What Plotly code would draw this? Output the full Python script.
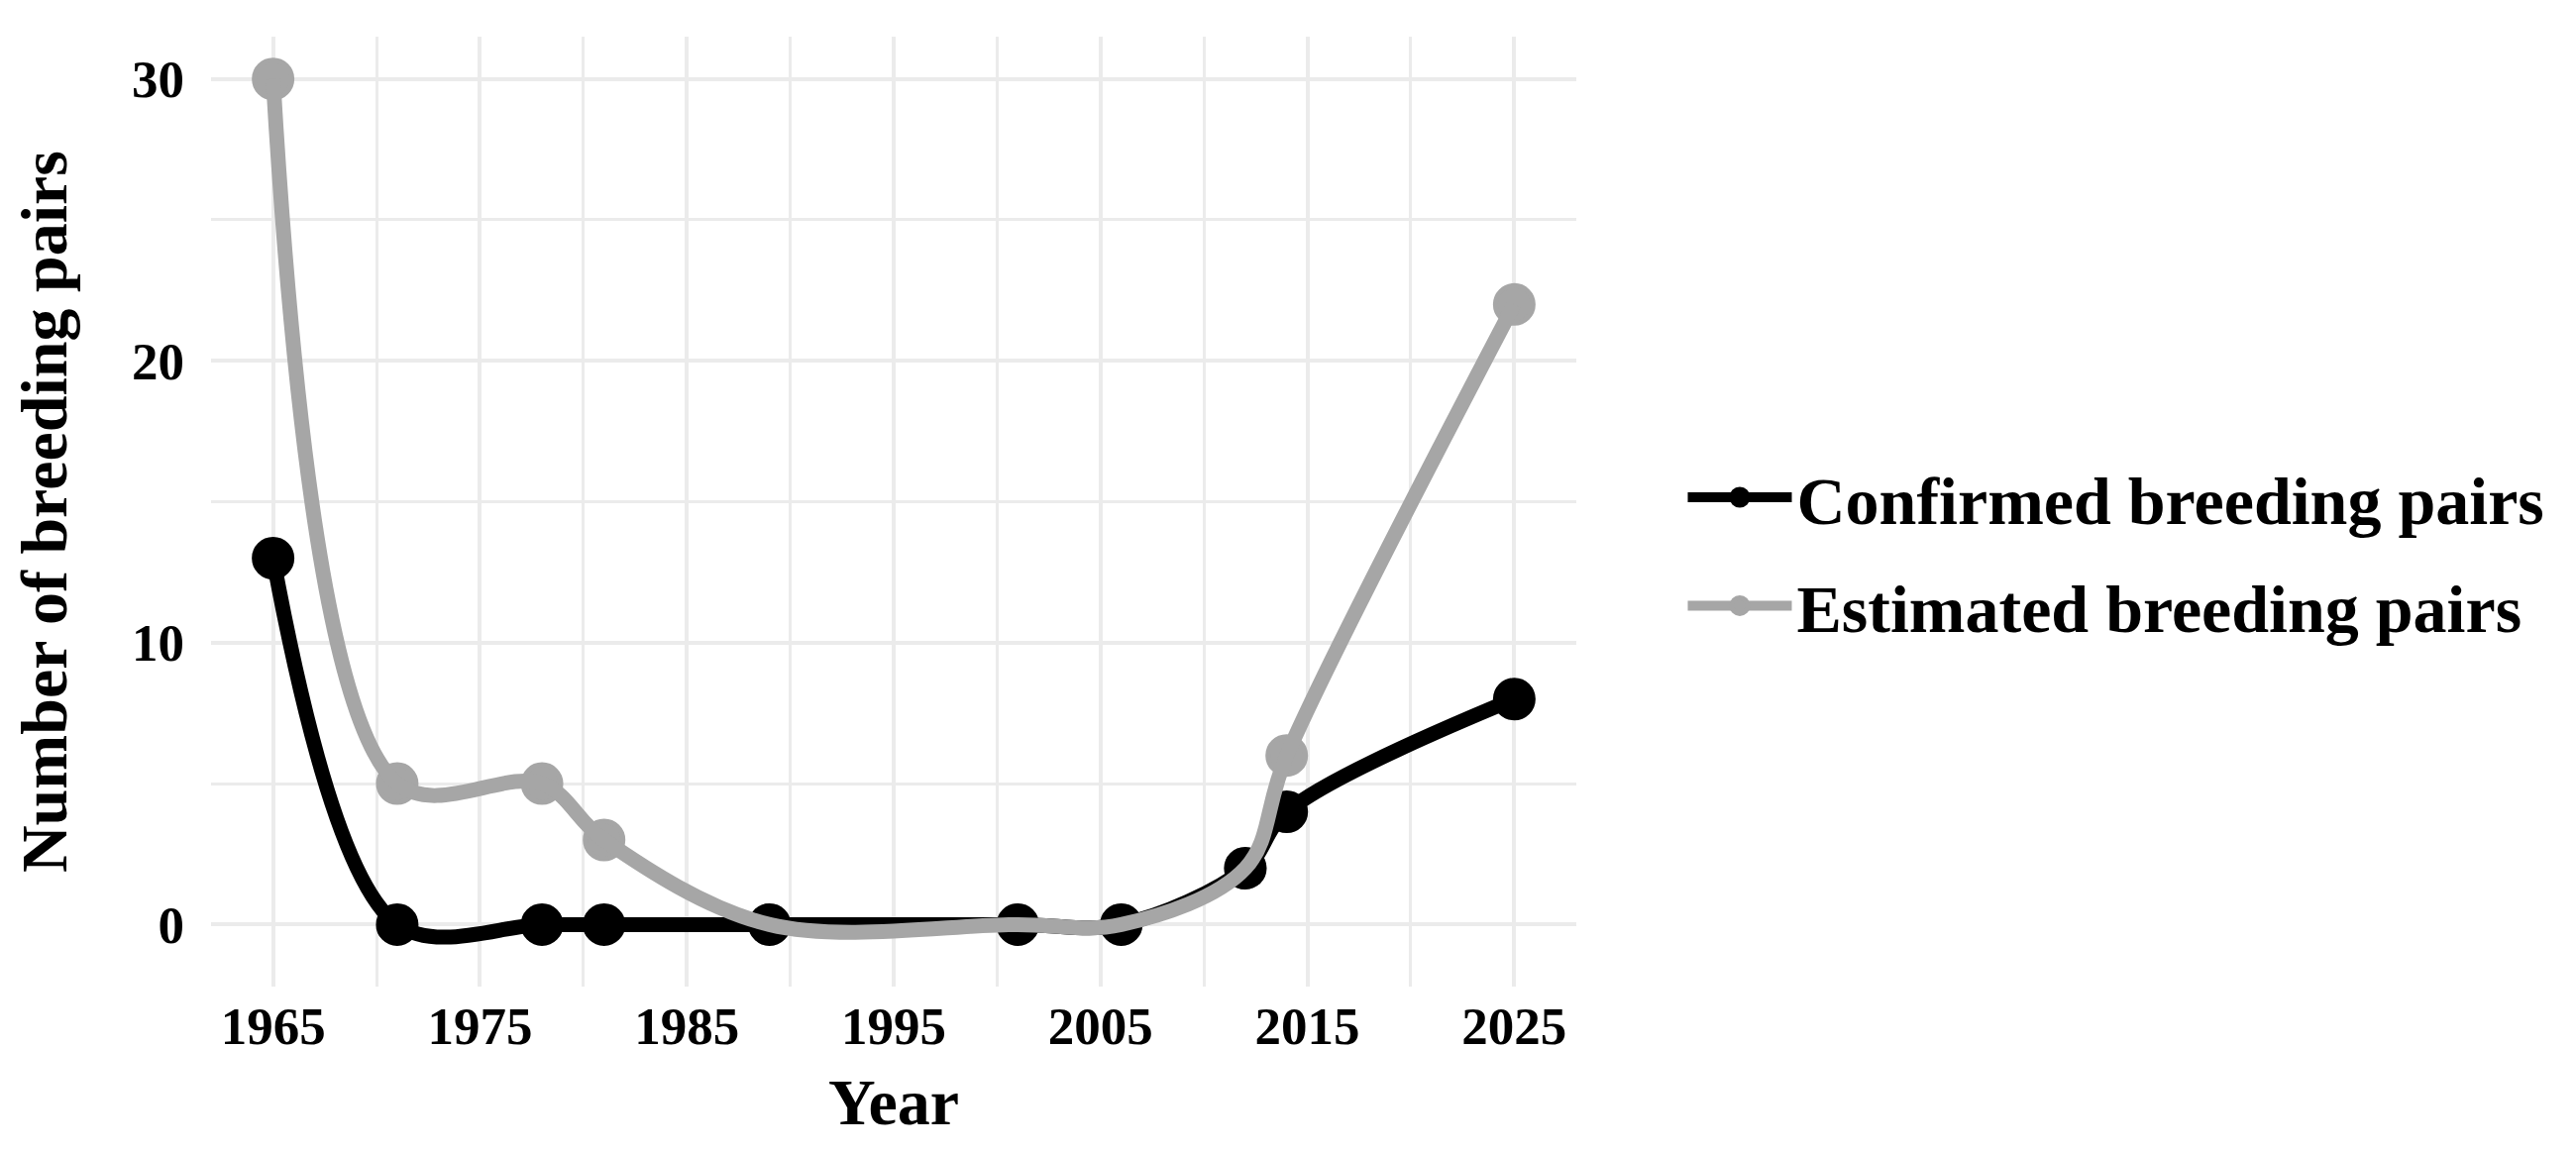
import plotly.graph_objects as go

# survey years and breeding pair counts
years = [1965, 1971, 1978, 1981, 1989, 2001, 2006, 2012, 2014, 2025]
confirmed_pairs = [13, 0, 0, 0, 0, 0, 0, 2, 4, 8]
estimated_pairs = [30, 5, 5, 3, 0, 0, 0, 2, 6, 22]

x_ticks = [1965, 1975, 1985, 1995, 2005, 2015, 2025]
y_ticks = [0, 10, 20, 30]

series_names = ['Confirmed breeding pairs', 'Estimated breeding pairs']
series_colors = ['#000000', '#a6a6a6']

FONT = 'Liberation Serif'
MARKER_SIZE = 38
MARKER_EDGE = 5
LINE_WIDTH = 15


def build_figure():
    fig = go.Figure()
    series = [confirmed_pairs, estimated_pairs]

    # points first (estimated below confirmed), smoothed lines on top
    for vals, col in zip(series[::-1], series_colors[::-1]):
        fig.add_trace(go.Scatter(
            x=years, y=vals, mode='markers',
            marker=dict(size=MARKER_SIZE, color=col, symbol='circle',
                        line=dict(color=col, width=MARKER_EDGE)),
            showlegend=False, hoverinfo='skip'
        ))
    for vals, col in zip(series, series_colors):
        fig.add_trace(go.Scatter(
            x=years, y=vals, mode='lines',
            line=dict(color=col, width=LINE_WIDTH, shape='spline', smoothing=1.0),
            showlegend=False
        ))
    # legend entries
    for i, (name, col) in enumerate(zip(series_names, series_colors)):
        fig.add_trace(go.Scatter(
            x=[None], y=[None], mode='lines+markers', name=name,
            legendgroup=f'g{i}',
            line=dict(color=col, width=LINE_WIDTH),
            marker=dict(size=MARKER_SIZE, color=col,
                        line=dict(color=col, width=MARKER_EDGE))
        ))

    fig.update_layout(
        width=2600, height=1163,
        paper_bgcolor='white', plot_bgcolor='white',
        margin=dict(l=205, r=1017, t=29, b=175, autoexpand=False),
        font=dict(family=FONT, color='#000000', size=53, weight='bold'),
        legend=dict(
            x=1.078, xanchor='left', y=0.458, yanchor='middle',
            font=dict(family=FONT, size=68, color='#000000', weight='bold'),
            traceorder='grouped', tracegroupgap=18,
            itemwidth=105, bgcolor='rgba(0,0,0,0)'
        ),
        xaxis=dict(
            range=[1962, 2028], tickmode='array', tickvals=x_ticks,
            showgrid=True, gridcolor='#ebebeb', gridwidth=4,
            minor=dict(dtick=5, tick0=1965, showgrid=True, gridcolor='#ebebeb', gridwidth=3),
            zeroline=False, showline=False,
            tickfont=dict(family=FONT, size=53, weight='bold'),
            ticklabelstandoff=4,
            title=dict(text='Year', standoff=24,
                       font=dict(family=FONT, size=66, weight='bold'))
        ),
        yaxis=dict(
            range=[-2.2, 31.5], tickmode='array', tickvals=y_ticks,
            showgrid=True, gridcolor='#ebebeb', gridwidth=4,
            minor=dict(dtick=5, tick0=0, showgrid=True, gridcolor='#ebebeb', gridwidth=3),
            zeroline=False, showline=False,
            tickfont=dict(family=FONT, size=53, weight='bold'),
            ticklabelstandoff=26,
            title=dict(text='Number of breeding pairs', standoff=44,
                       font=dict(family=FONT, size=66, weight='bold'))
        ),
    )
    return fig


if __name__ == '__main__':
    fig = build_figure()
    fig.write_html('out.html')
